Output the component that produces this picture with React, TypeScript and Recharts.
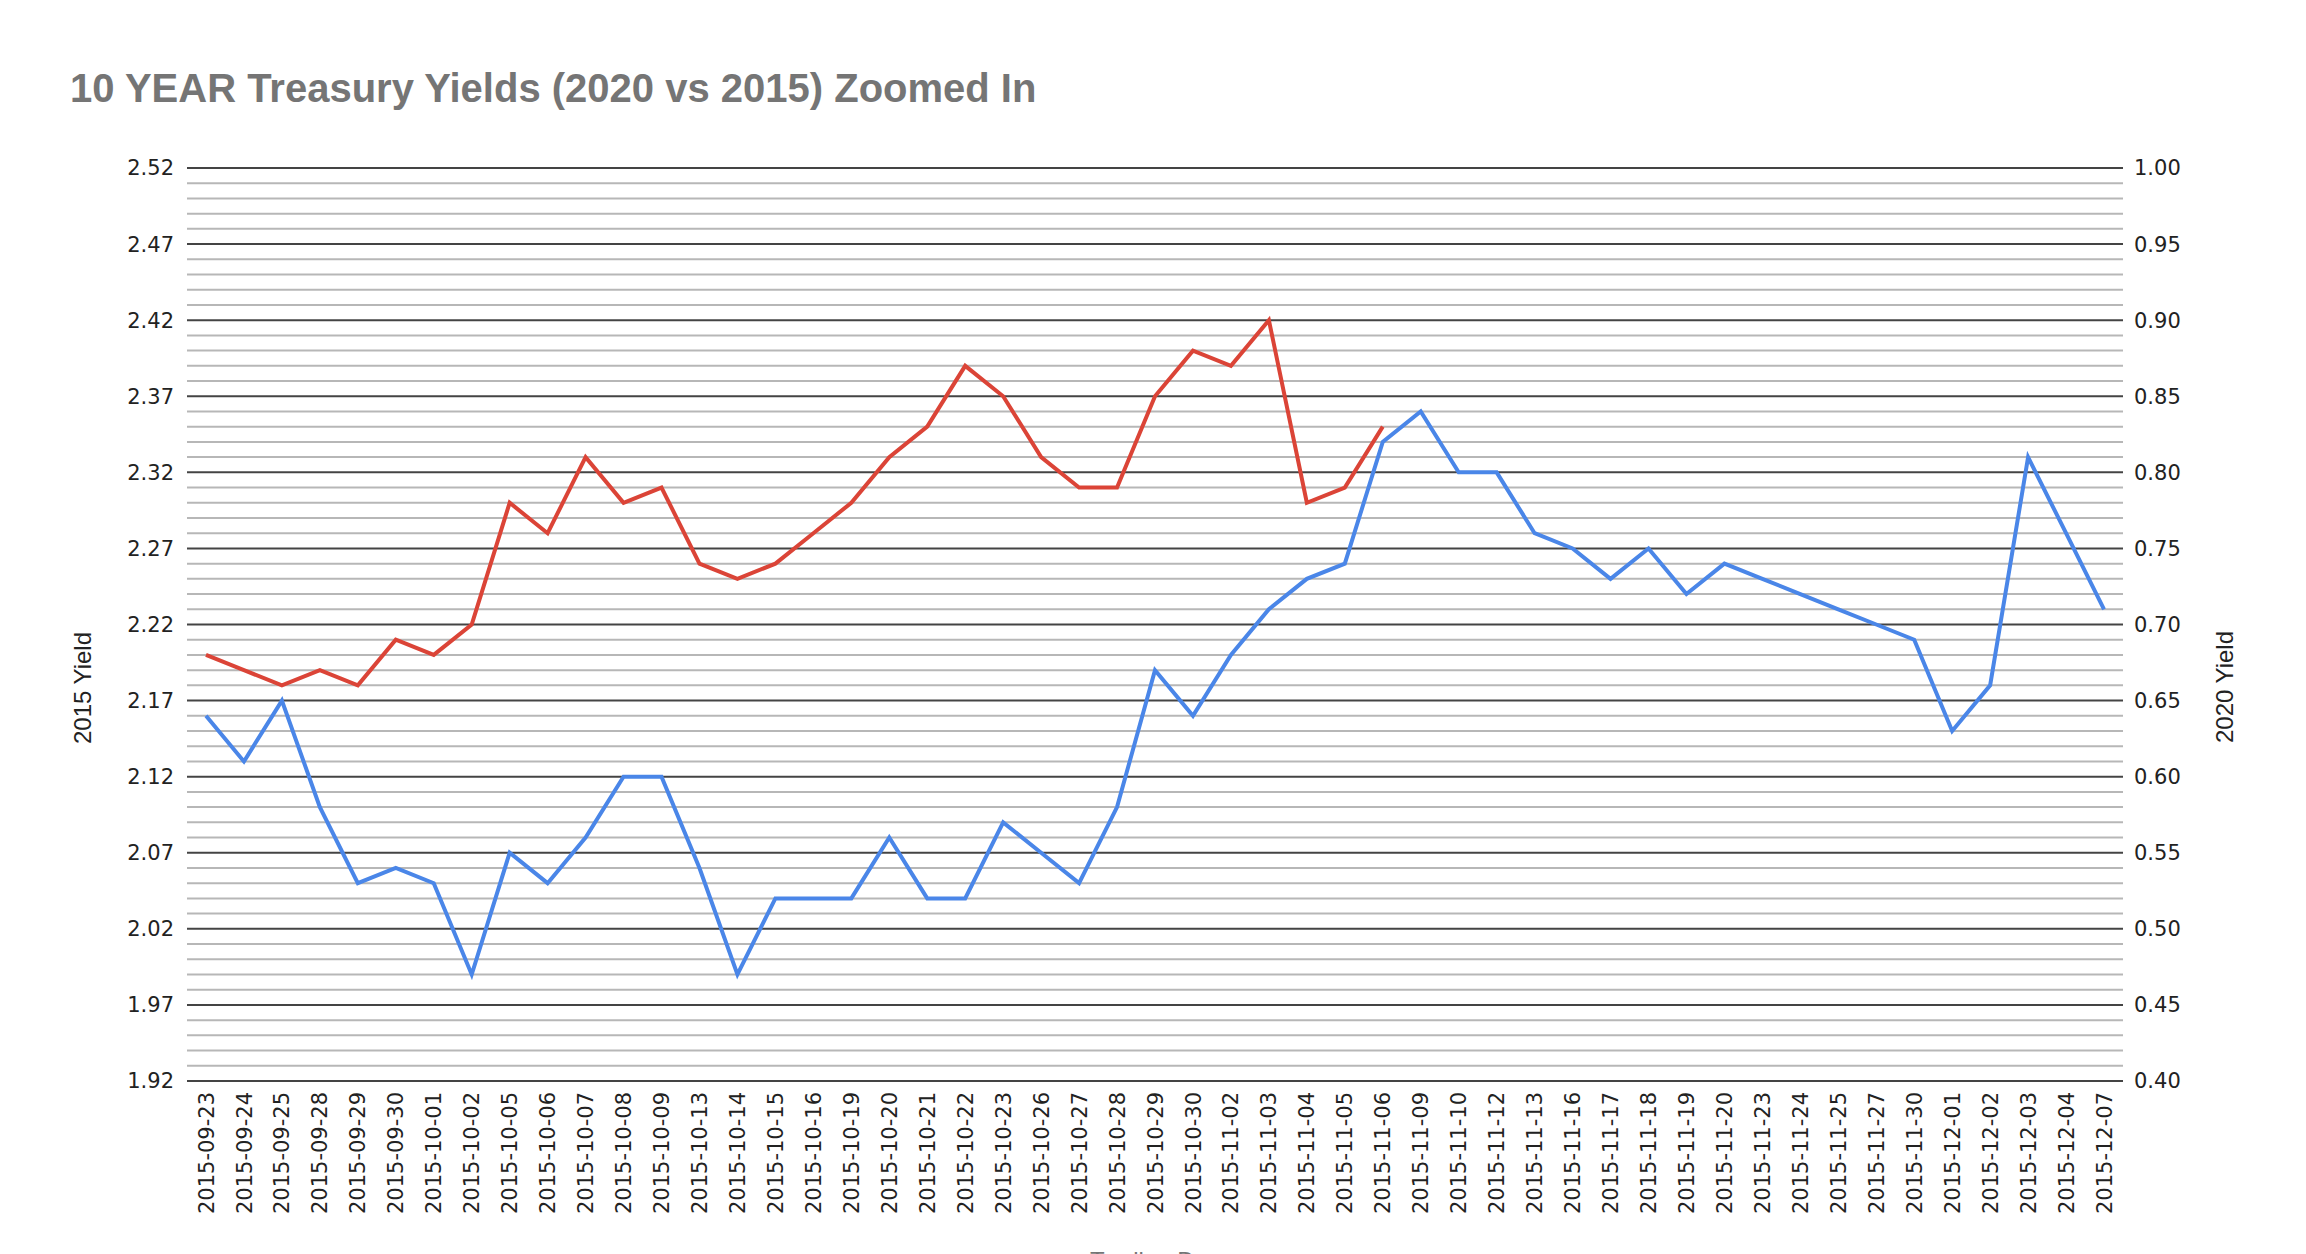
import React from 'react';
import { LineChart, Line, XAxis, YAxis, CartesianGrid, ReferenceLine } from 'recharts';

const dates = [
  '2015-09-23', '2015-09-24', '2015-09-25', '2015-09-28', '2015-09-29', '2015-09-30',
  '2015-10-01', '2015-10-02', '2015-10-05', '2015-10-06', '2015-10-07', '2015-10-08',
  '2015-10-09', '2015-10-13', '2015-10-14', '2015-10-15', '2015-10-16', '2015-10-19',
  '2015-10-20', '2015-10-21', '2015-10-22', '2015-10-23', '2015-10-26', '2015-10-27',
  '2015-10-28', '2015-10-29', '2015-10-30', '2015-11-02', '2015-11-03', '2015-11-04',
  '2015-11-05', '2015-11-06', '2015-11-09', '2015-11-10', '2015-11-12', '2015-11-13',
  '2015-11-16', '2015-11-17', '2015-11-18', '2015-11-19', '2015-11-20', '2015-11-23',
  '2015-11-24', '2015-11-25', '2015-11-27', '2015-11-30', '2015-12-01', '2015-12-02',
  '2015-12-03', '2015-12-04', '2015-12-07',
];

// 2015 yields (left axis) - series stops at 2015-11-06
const yield2015 = [
  2.20, 2.19, 2.18, 2.19, 2.18, 2.21, 2.20, 2.22, 2.30, 2.28, 2.33, 2.30,
  2.31, 2.26, 2.25, 2.26, 2.28, 2.30, 2.33, 2.35, 2.39, 2.37, 2.33, 2.31,
  2.31, 2.37, 2.40, 2.39, 2.42, 2.30, 2.31, 2.35,
  null, null, null, null, null, null, null, null, null, null,
  null, null, null, null, null, null, null, null, null,
];

// 2020 yields (right axis)
const yield2020 = [
  0.64, 0.61, 0.65, 0.58, 0.53, 0.54, 0.53, 0.47, 0.55, 0.53, 0.56, 0.60,
  0.60, 0.54, 0.47, 0.52, 0.52, 0.52, 0.56, 0.52, 0.52, 0.57, 0.55, 0.53,
  0.58, 0.67, 0.64, 0.68, 0.71, 0.73, 0.74, 0.82, 0.84, 0.80, 0.80, 0.76,
  0.75, 0.73, 0.75, 0.72, 0.74, 0.73, 0.72, 0.71, 0.70, 0.69, 0.63, 0.66,
  0.81, 0.76, 0.71,
];

const leftTicks = [1.92, 1.97, 2.02, 2.07, 2.12, 2.17, 2.22, 2.27, 2.32, 2.37, 2.42, 2.47, 2.52];
const rightTicks = [0.4, 0.45, 0.5, 0.55, 0.6, 0.65, 0.7, 0.75, 0.8, 0.85, 0.9, 0.95, 1.0];

// minor gridlines every 0.01 on the left scale
const minorLines: number[] = [];
for (let k = 1; k < 60; k++) {
  if (k % 5 !== 0) minorLines.push(Math.round((1.92 + k * 0.01) * 100) / 100);
}

const data = dates.map((d, i) => ({ date: d, y2015: yield2015[i], y2020: yield2020[i] }));

const tickFont = "'DejaVu Sans', Verdana, sans-serif";
const textFont = "'Liberation Sans', Arial, sans-serif";

const DateTick = (props: any) => {
  const { x, y, payload } = props;
  return (
    <g transform={`translate(${x},${y})`}>
      <text transform="rotate(-90)" textAnchor="end" dy="0.36em" fontSize={21} fill="#222" fontFamily={tickFont}>
        {payload.value}
      </text>
    </g>
  );
};

const App = () => {
  return (
    <div style={{ position: 'absolute', left: 0, top: 0, width: 2306, height: 1254, overflow: 'hidden', background: '#fff' }}>
      <LineChart
        width={2306}
        height={1254}
        data={data}
        margin={{ top: 168, right: 63, left: 67, bottom: 0 }}
      >
        <CartesianGrid yAxisId="left" vertical={false} stroke="#444" strokeWidth={2} strokeOpacity={1} />
        {minorLines.map((v) => (
          <ReferenceLine key={v} yAxisId="left" y={v} stroke="#b7b7b7" strokeWidth={2} />
        ))}
        <XAxis
          dataKey="date"
          scale="band"
          interval={0}
          tick={<DateTick />}
          tickLine={false}
          axisLine={false}
          tickSize={6}
          tickMargin={5}
          height={173}
        />
        <YAxis
          yAxisId="left"
          orientation="left"
          domain={[1.92, 2.52]}
          ticks={leftTicks}
          allowDataOverflow
          tickFormatter={(v: number) => v.toFixed(2)}
          tick={{ fontSize: 21, fill: '#222', fontFamily: tickFont }}
          axisLine={false}
          tickLine={false}
          tickMargin={7}
          width={120}
        />
        <YAxis
          yAxisId="right"
          orientation="right"
          domain={[0.4, 1.0]}
          ticks={rightTicks}
          allowDataOverflow
          tickFormatter={(v: number) => v.toFixed(2)}
          tick={{ fontSize: 21, fill: '#222', fontFamily: tickFont }}
          axisLine={false}
          tickLine={false}
          tickMargin={5}
          width={120}
        />
        <Line
          yAxisId="right"
          type="linear"
          dataKey="y2020"
          stroke="#4a86e8"
          strokeWidth={4}
          dot={false}
          activeDot={false}
          isAnimationActive={false}
        />
        <Line
          yAxisId="left"
          type="linear"
          dataKey="y2015"
          stroke="#db4437"
          strokeWidth={4}
          dot={false}
          activeDot={false}
          connectNulls={false}
          isAnimationActive={false}
        />
      </LineChart>
      <svg width={2306} height={1254} style={{ position: 'absolute', left: 0, top: 0, pointerEvents: 'none' }}>
        <text x={70} y={102} fontSize={40} fontWeight="bold" fill="#757575" fontFamily={textFont}>
          10 YEAR Treasury Yields (2020 vs 2015) Zoomed In
        </text>
        <text transform="translate(91,688) rotate(-90)" textAnchor="middle" fontSize={24} fill="#222" fontFamily={textFont}>
          2015 Yield
        </text>
        <text transform="translate(2233,687) rotate(-90)" textAnchor="middle" fontSize={24} fill="#222" fontFamily={textFont}>
          2020 Yield
        </text>
        <text x={1155} y={1269} textAnchor="middle" fontSize={24} fill="#757575" fontFamily={textFont}>
          Trading Day
        </text>
      </svg>
    </div>
  );
};

export default App;
